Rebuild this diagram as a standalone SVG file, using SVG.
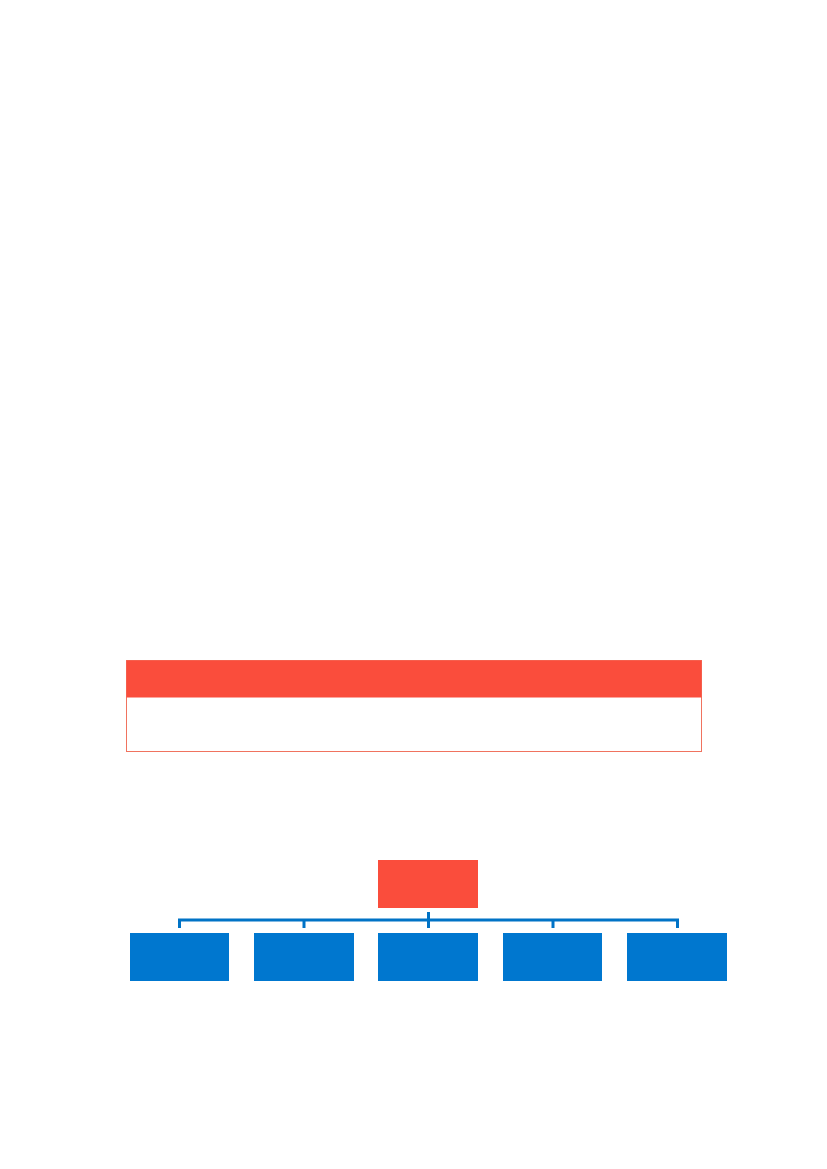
<svg xmlns="http://www.w3.org/2000/svg" width="827" height="1169" viewBox="0 0 827 1169">
<style>
.red{fill:#FA4D3C}
.blue{fill:#0077CF}
.conn{stroke:#0073C6;stroke-width:3;fill:none}
</style>
<rect width="827" height="1169" fill="#FFFFFF"/>
<g id="panel">
<rect x="126.5" y="660.5" width="575" height="91" fill="#FFFFFF" stroke="#F0735F" stroke-width="1"/>
<rect x="126.5" y="660.5" width="575" height="37" class="red"/>
</g>
<g id="connectors">
<path class="conn" d="M179.5 928 V920 H677.5 V928"/>
<path class="conn" d="M304 920 V928"/>
<path class="conn" d="M553 920 V928"/>
<path class="conn" d="M428.5 912 V928"/>
</g>
<g id="root"><rect x="378" y="860" width="100" height="48" class="red"/></g>
<g id="child1"><rect x="130" y="933" width="99" height="48" class="blue"/></g>
<g id="child2"><rect x="254" y="933" width="100" height="48" class="blue"/></g>
<g id="child3"><rect x="378" y="933" width="100" height="48" class="blue"/></g>
<g id="child4"><rect x="503" y="933" width="99" height="48" class="blue"/></g>
<g id="child5"><rect x="627" y="933" width="100" height="48" class="blue"/></g>
</svg>
